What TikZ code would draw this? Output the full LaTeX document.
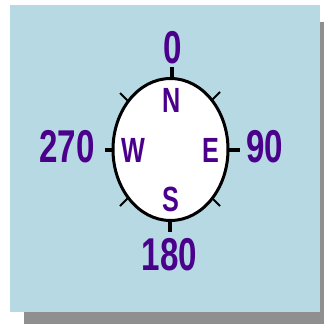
\documentclass[tikz,border=0pt]{standalone}
\usepackage{fontspec}
\usetikzlibrary{shapes.geometric}
\setmainfont{Liberation Sans}
\definecolor{panel}{RGB}{183,217,227}
\definecolor{shadowgray}{RGB}{143,143,143}
\definecolor{ink}{RGB}{75,0,140}
\begin{document}
\begin{tikzpicture}[x=1pt,y=-1pt,
  deg/.style={text=ink,inner sep=0pt,anchor=base,font=\fontsize{46}{46}\selectfont,xscale=0.72},
  card/.style={text=ink,inner sep=0pt,anchor=base,font=\bfseries\fontsize{35}{35}\selectfont,xscale=0.72},
  dial/.style={draw=black,fill=white,line width=3pt,ellipse,inner sep=0pt,minimum width=115pt,minimum height=142pt},
  bigtick/.style={line width=4pt},
  smalltick/.style={line width=2pt}]
\useasboundingbox (0,0) rectangle (324,324);
\fill[white] (0,0) rectangle (324,324);
\fill[shadowgray] (24,22) rectangle (324,324);
\fill[panel] (10,5) rectangle (320,312);
% ticks
\draw[bigtick] (172,67) -- (172,80);
\draw[bigtick] (170,219) -- (170,232);
\draw[bigtick] (225,149.5) -- (240,149.5);
\draw[bigtick] (105,149.5) -- (116,149.5);
\draw[smalltick] (128,101) -- (120,93);
\draw[smalltick] (212,100) -- (220,92);
\draw[smalltick] (128,198) -- (120,206);
\draw[smalltick] (212,198) -- (220,206);
\node[dial] (e) at (170.5,149.5) {};
% labels
\node[deg,font=\bfseries\fontsize{46}{46}\selectfont] (n0) at (172.5,63) {0};
\node[deg,font=\fontsize{46}{46}\selectfont\bfseries] (n90) at (265,162) {90};
\node[deg,font=\fontsize{46}{46}\selectfont\bfseries] (n180) at (169.5,270) {180};
\node[deg,font=\fontsize{46}{46}\selectfont\bfseries] (n270) at (67,162) {270};
\node[card] (cn) at (172,112) {N};
\node[card] (cw) at (133,162) {W};
\node[card] (ce) at (210.5,162) {E};
\node[card] (cs) at (171,211) {S};
\end{tikzpicture}
\end{document}
